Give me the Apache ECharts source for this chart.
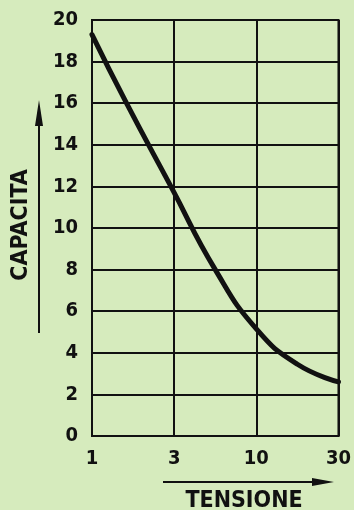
<!DOCTYPE html>
<html>
<head>
<meta charset="utf-8">
<script src="https://cdn.jsdelivr.net/npm/echarts@6/dist/echarts.min.js"></script>
<style>
  html, body { margin: 0; padding: 0; background: #d6ebbd; }
  #chart { width: 354px; height: 510px; }
</style>
</head>
<body>
<div id="chart"></div>
<script>
// Voltage tick labels, evenly spaced (one step per position)
const tensioneLabels = ['1', '3', '10', '30'];
// Curve samples: position along the voltage axis (0 = 1 V, 3 = 30 V) and capacitance
const curvePosition = [0, 0.42, 0.96, 1.5, 2.0, 2.5, 3.0];
const capacita      = [19.3, 16, 12, 8, 5.15, 3.45, 2.6];
// Capacitance axis
const yMin = 0, yMax = 20, yStep = 2;

const FONT = '"DejaVu Sans Condensed", "DejaVu Sans", sans-serif';
const INK = '#111';

const chart = echarts.init(document.getElementById('chart'), null, { renderer: 'canvas' });

chart.setOption({
  backgroundColor: '#d6ebbd',
  animation: false,
  grid: {
    left: 92, right: 13, top: 20, bottom: 74,
    show: true, borderColor: INK, borderWidth: 2, backgroundColor: 'transparent'
  },
  xAxis: {
    type: 'value', min: 0, max: tensioneLabels.length - 1, interval: 1,
    axisLine: { show: true, lineStyle: { color: INK, width: 2 } },
    axisTick: { show: false },
    splitLine: { show: true, lineStyle: { color: INK, width: 2 } },
    axisLabel: {
      margin: 13, color: INK, fontFamily: FONT, fontWeight: 'bold', fontSize: 20,
      formatter: v => tensioneLabels[Math.round(v)] ?? ''
    }
  },
  yAxis: {
    type: 'value', min: yMin, max: yMax, interval: yStep,
    axisLine: { show: true, lineStyle: { color: INK, width: 2 } },
    axisTick: { show: false },
    splitLine: { show: true, lineStyle: { color: INK, width: 2 } },
    axisLabel: { margin: 14, color: INK, fontFamily: FONT, fontWeight: 'bold', fontSize: 20 }
  },
  series: [{
    type: 'line',
    data: curvePosition.map((x, i) => [x, capacita[i]]),
    smooth: 0.5,
    symbol: 'none',
    lineStyle: { color: INK, width: 5, cap: 'round' },
    z: 5
  }],
  graphic: [
    // vertical arrow beside the capacitance title
    { type: 'line', shape: { x1: 39, y1: 118, x2: 39, y2: 333 }, style: { stroke: INK, lineWidth: 2 } },
    { type: 'polygon', shape: { points: [[39, 100], [35, 126], [43, 126]] }, style: { fill: INK } },
    {
      type: 'text', x: 21, y: 225, rotation: Math.PI / 2,
      style: { text: 'CAPACITA', fill: INK, font: 'bold 23px ' + FONT, align: 'center', verticalAlign: 'middle' }
    },
    // horizontal arrow above the voltage title
    { type: 'line', shape: { x1: 163, y1: 482, x2: 318, y2: 482 }, style: { stroke: INK, lineWidth: 2 } },
    { type: 'polygon', shape: { points: [[334, 482], [312, 478], [312, 486]] }, style: { fill: INK } },
    {
      type: 'text', x: 244, y: 501,
      style: { text: 'TENSIONE', fill: INK, font: 'bold 23px ' + FONT, align: 'center', verticalAlign: 'middle' }
    }
  ]
});
</script>
</body>
</html>
